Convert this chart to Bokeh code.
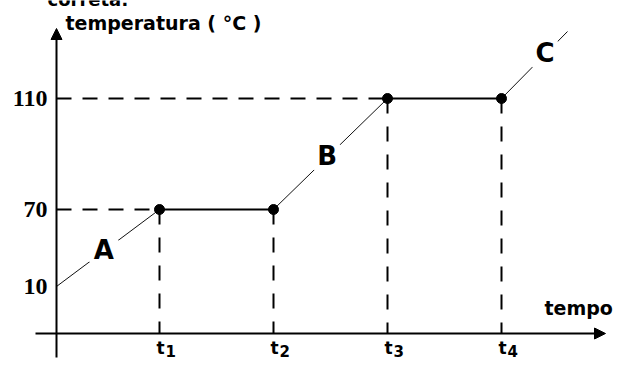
from bokeh.plotting import figure
from bokeh.models import Range1d, Arrow, NormalHead
from bokeh.core.properties import value
from bokeh.embed import file_html
from bokeh.resources import INLINE

# ---------------- chart data ----------------
time_names = ["t1", "t2", "t3", "t4"]
time_subscripts = ["1", "2", "3", "4"]
temp_ticks = [10, 70, 110]
temp_tick_labels = ["10", "70", "110"]
start_temp = 10
point_temps = [70, 70, 110, 110]      # temperature reached at t1..t4
plateau_temps = [70, 110]
segment_names = ["A", "B", "C"]
x_title = "tempo"
y_title = "temperatura ( °C )"
caption = "correta:"

# ---------------- schematic layout (pixels from the axes) ----------------
TIME_X = {"t0": 0, "t1": 103, "t2": 217, "t3": 331, "t4": 445, "end": 511}
TEMP_Y = {10: 47, 70: 124, 110: 235}
C_END_Y = 302
X_AXIS = (-21, 549)
Y_AXIS = (-24, 305)
LABEL_FRAC = [0.46, 0.47, 0.66]

BLACK = "#000000"

p = figure(width=615, height=359, x_range=Range1d(-56, 559), y_range=Range1d(-26, 333),
           output_backend="svg", toolbar_location=None, min_border=0,
           x_axis_type=None, y_axis_type=None)
p.outline_line_color = None
p.background_fill_color = "white"
p.border_fill_color = "white"
p.xgrid.visible = False
p.ygrid.visible = False

px = [TIME_X[t] for t in time_names]
py = [TEMP_Y[v] for v in point_temps]

# sloped (heating) segments A, B, C
sx0 = [TIME_X["t0"], px[1], px[3]]
sy0 = [TEMP_Y[start_temp], py[1], py[3]]
sx1 = [px[0], px[2], TIME_X["end"]]
sy1 = [py[0], py[2], C_END_Y]
p.segment(x0=sx0, y0=sy0, x1=sx1, y1=sy1, line_color="#111111", line_width=1)

# plateaus
p.segment(x0=[px[0], px[2]], y0=[py[0], py[2]], x1=[px[1], px[3]], y1=[py[1], py[3]],
          line_color=BLACK, line_width=2)

# dashed guides
hx1 = [px[point_temps.index(v)] for v in plateau_temps]
hy = [TEMP_Y[v] for v in plateau_temps]
p.segment(x0=[0] * len(hy), y0=hy, x1=hx1, y1=hy, line_color=BLACK, line_width=2,
          line_dash="15 11")
p.segment(x0=px, y0=py, x1=px, y1=[0] * len(px), line_color=BLACK, line_width=2,
          line_dash="15 13")

# points
p.scatter(x=px, y=py, size=10, fill_color=BLACK, line_color=BLACK)

# segment labels with white knock-out
lx = [a + f * (b - a) for a, b, f in zip(sx0, sx1, LABEL_FRAC)]
ly = [a + f * (b - a) for a, b, f in zip(sy0, sy1, LABEL_FRAC)]
p.scatter(x=lx, y=ly, size=36, fill_color="white", line_color=None)
p.text(x=lx, y=ly, text=segment_names, text_align="center", text_baseline="middle",
       text_font=value("DejaVu Sans"), text_font_style="bold", text_font_size="26px",
       text_color=BLACK, y_offset=-1)

# axes with arrow heads
p.add_layout(Arrow(end=NormalHead(size=11, fill_color=BLACK, line_color=BLACK),
                   x_start=X_AXIS[0], y_start=0, x_end=X_AXIS[1], y_end=0,
                   line_color=BLACK, line_width=2))
p.add_layout(Arrow(end=NormalHead(size=11, fill_color=BLACK, line_color=BLACK),
                   x_start=0, y_start=Y_AXIS[0], x_end=0, y_end=Y_AXIS[1],
                   line_color=BLACK, line_width=2))

# y tick labels
p.text(x=[0] * len(temp_ticks), y=[TEMP_Y[v] for v in temp_ticks], text=temp_tick_labels,
       x_offset=-9, text_align="right", text_baseline="middle",
       text_font=value("Liberation Serif"), text_font_style="bold", text_font_size="24px",
       text_color=BLACK)

# x tick labels t with subscripts
p.text(x=px, y=[0] * len(px), text=["t"] * len(px), x_offset=-3, y_offset=14,
       text_align="left", text_baseline="alphabetic",
       text_font=value("DejaVu Sans"), text_font_style="bold", text_font_size="17px",
       text_color=BLACK)
p.text(x=px, y=[0] * len(px), text=time_subscripts, x_offset=6, y_offset=17,
       text_align="left", text_baseline="alphabetic",
       text_font=value("DejaVu Sans"), text_font_style="bold", text_font_size="15px",
       text_color=BLACK)

# axis titles
p.text(x=[0], y=[Y_AXIS[1]], text=[y_title], x_offset=9, y_offset=-6,
       text_align="left", text_baseline="alphabetic",
       text_font=value("DejaVu Sans"), text_font_style="bold", text_font_size="19px",
       text_color=BLACK)
p.text(x=[X_AXIS[1]], y=[0], text=[x_title], x_offset=-61, y_offset=-26,
       text_align="left", text_baseline="alphabetic",
       text_font=value("DejaVu Sans"), text_font_style="bold", text_font_size="19px",
       text_color=BLACK)

# caption, cut off at the top edge as in the source picture
p.text(x=[0], y=[333], text=[caption], x_offset=-9, y_offset=-1,
       text_align="left", text_baseline="alphabetic",
       text_font=value("DejaVu Sans"), text_font_style="bold", text_font_size="18px",
       text_color=BLACK)

open("out.html", "w").write(file_html(p, INLINE))
